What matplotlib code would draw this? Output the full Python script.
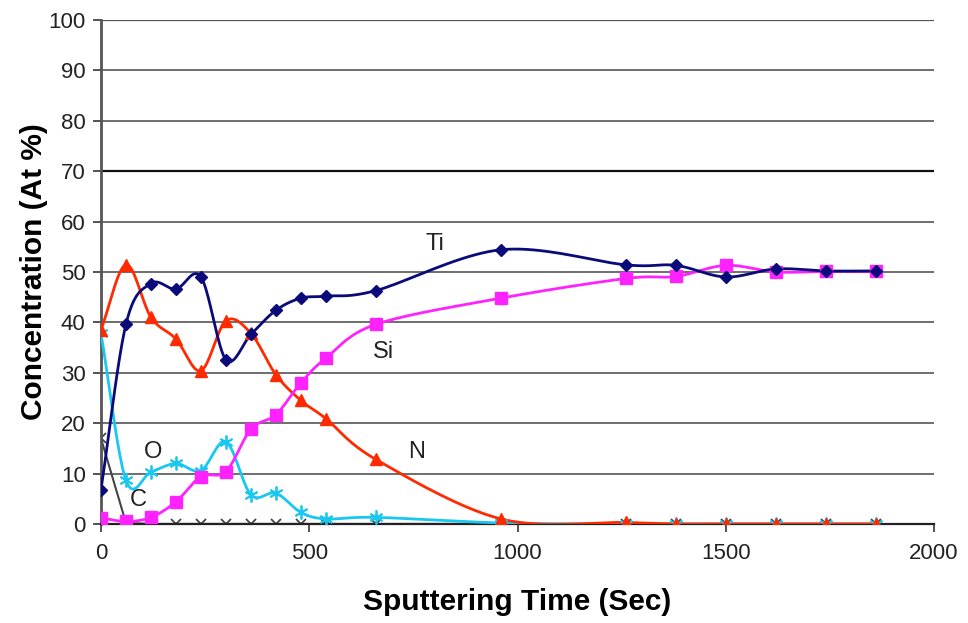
import numpy as np
import matplotlib
matplotlib.use("Agg")
import matplotlib.pyplot as plt

plt.rcParams['font.family'] = ['Liberation Sans', 'DejaVu Sans']

time = [0, 60, 120, 180, 240, 300, 360, 420, 480, 540, 660, 960, 1260, 1380, 1500, 1620, 1740, 1860]
ti = [6.8, 39.6, 47.7, 46.6, 49.0, 32.6, 37.6, 42.4, 44.8, 45.2, 46.3, 54.4, 51.4, 51.3, 49.0, 50.6, 50.2, 50.2]
n = [38.5, 51.4, 41.0, 36.7, 30.4, 40.3, 37.8, 29.6, 24.5, 20.9, 12.8, 1.0, 0.3, 0.0, 0.0, 0.0, 0.0, 0.0]
si = [1.2, 0.5, 1.3, 4.4, 9.4, 10.4, 18.8, 21.7, 28.0, 32.9, 39.6, 44.8, 48.7, 49.1, 51.3, 50.0, 50.1, 50.1]
o = [37.8, 8.7, 10.3, 12.0, 10.6, 16.3, 5.8, 6.1, 2.3, 1.0, 1.3, 0.2, 0.0, 0.0, 0.0, 0.0, 0.0, 0.0]
c = [17.0, 0.2, 0.0, 0.0, 0.0, 0.0, 0.0, 0.0, 0.0, 0.0, 0.0, 0.0, 0.0, 0.0, 0.0, 0.0, 0.0, 0.0]

labels = ["Ti", "Si", "N", "O", "C"]
label_pos = [(778, 55.5), (652, 34.2), (738, 14.2), (102, 14.3), (70, 4.7)]

yticks = [0, 10, 20, 30, 40, 50, 60, 70, 80, 90, 100]
xticks = [0, 500, 1000, 1500, 2000]


def smooth(x, y, k=20):
    x = np.asarray(x, float)
    y = np.asarray(y, float)
    px = np.concatenate([[2 * x[0] - x[1]], x, [2 * x[-1] - x[-2]]])
    py = np.concatenate([[2 * y[0] - y[1]], y, [2 * y[-1] - y[-2]]])
    xs, ys = [], []
    t = np.linspace(0, 1, k, endpoint=False)
    for i in range(1, len(px) - 2):
        p0x, p1x, p2x, p3x = px[i - 1], px[i], px[i + 1], px[i + 2]
        p0y, p1y, p2y, p3y = py[i - 1], py[i], py[i + 1], py[i + 2]
        c1x = p1x + (p2x - p0x) / 6
        c1y = p1y + (p2y - p0y) / 6
        c2x = p2x - (p3x - p1x) / 6
        c2y = p2y - (p3y - p1y) / 6
        b0 = (1 - t) ** 3
        b1 = 3 * (1 - t) ** 2 * t
        b2 = 3 * (1 - t) * t ** 2
        b3 = t ** 3
        xs.append(b0 * p1x + b1 * c1x + b2 * c2x + b3 * p2x)
        ys.append(b0 * p1y + b1 * c1y + b2 * c2y + b3 * p2y)
    xs.append([x[-1]])
    ys.append([y[-1]])
    return np.concatenate(xs), np.concatenate(ys)


fig = plt.figure(figsize=(9.68, 6.23), dpi=100)
ax = fig.add_axes([0.1043, 0.159, 0.8607, 0.809])

for yv in yticks[1:]:
    lw = 1.6 if yv in (70, 100) else 1.2
    col = '#111111' if yv == 70 else '#555555'
    ax.axhline(yv, color=col, lw=lw, zorder=0)

# C (straight lines)
ax.plot(time, c, color='#444444', lw=1.5, marker='x', ms=7, mew=1.3, zorder=2)

series = [
    (o, '#19c8f0', dict(marker=(6, 2, 0), ms=10, mew=1.3)),
    (n, '#ff2a00', dict(marker='^', ms=8)),
    (si, '#ff22ff', dict(marker='s', ms=8)),
    (ti, '#0a0a7a', dict(marker='D', ms=6)),
]
for ys, col, mk in series:
    sx, sy = smooth(time, ys)
    ax.plot(sx, sy, color=col, lw=2, zorder=3)
    ax.plot(time, ys, ls='none', color=col, mec=col, zorder=4, **mk)

for lab, (lx, ly) in zip(labels, label_pos):
    ax.text(lx, ly, lab, fontsize=17, ha='left', va='center', color='#222222')

ax.set_xlim(0, 2000)
ax.set_ylim(0, 100)
ax.set_xticks(xticks)
ax.set_yticks(yticks)
ax.tick_params(axis='both', labelsize=16, length=6, width=1.3, color='#444444', labelcolor='#222222')
ax.tick_params(axis='y', pad=5)
ax.tick_params(axis='x', pad=8)
for s in ['top', 'right']:
    ax.spines[s].set_visible(False)
ax.spines['left'].set_color('#555555')
ax.spines['left'].set_linewidth(2)
ax.spines['bottom'].set_color('#222222')
ax.spines['bottom'].set_linewidth(1.6)

ax.set_xlabel('Sputtering Time (Sec)', fontsize=21.5, fontweight='bold', labelpad=17)
ax.set_ylabel('Concentration (At %)', fontsize=21.5, fontweight='bold', labelpad=0)

fig.savefig('out.png', dpi=100)
